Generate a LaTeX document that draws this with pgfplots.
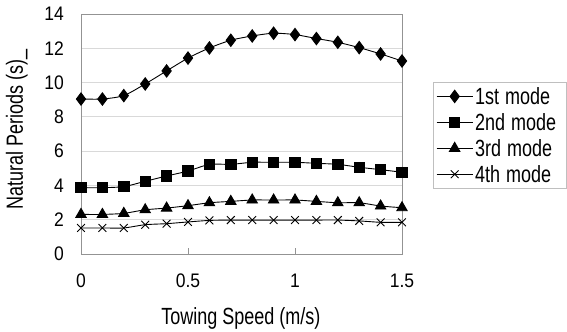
\documentclass[border=0pt]{standalone}
\usepackage{pgfplots}
\pgfplotsset{compat=1.18}
\usepackage{graphicx}
\usepackage{fontspec}
\setmainfont{Liberation Sans}
\newcommand{\tall}[1]{\scalebox{1}[1.3]{#1}}
\begin{document}
\begin{tikzpicture}[x=1bp,y=1bp]
\path[use as bounding box] (0,0) rectangle (567,-331);
\begin{axis}[
  at={(81bp,-254bp)}, anchor=south west,
  scale only axis, width=321bp, height=240bp,
  xmin=0, xmax=1.5, ymin=0, ymax=14,
  xtick={0,0.5,1,1.5}, ytick={0,2,...,14},
  /pgf/number format/assume math mode=true,
  font=\fontsize{17.5bp}{20bp}\selectfont,
  xticklabel={\scalebox{1}[1.12]{\pgfmathprintnumber{\tick}}},
  yticklabel={\scalebox{1}[1.12]{\pgfmathprintnumber{\tick}}},
  axis line style={draw=gray!85},
  ymajorgrids, grid style={draw=gray!30, line width=0.8bp},
  tick style={draw=gray!85},
  xtick pos=bottom, ytick pos=left,
  tick align=inside,
  major tick length=6bp,
  y tick style={draw=none},
  xticklabel style={inner sep=0pt, anchor=north, yshift=-20bp},
  yticklabel style={inner sep=0pt, anchor=east, xshift=-17bp},
  xlabel={\tall{Towing Speed (m/s)}},
  ylabel={\tall{Natural Periods (s)\_}},
  xlabel style={at={(axis description cs:0.498,-0.267)}, anchor=center, inner sep=0pt, font=\fontsize{18bp}{22bp}\selectfont},
  ylabel style={at={(axis description cs:-0.2,0.52)}, anchor=center, inner sep=0pt, font=\fontsize{18bp}{22bp}\selectfont},
  legend style={at={(axis description cs:1.0966,0.7167)}, anchor=north west,
    draw=gray!50, font=\fontsize{18bp}{20bp}\selectfont, inner sep=3bp,
    row sep=3.5bp, cells={anchor=west}, text width=86bp,
    nodes={inner sep=2bp}},
  legend image code/.code={\draw[mark repeat=2,mark phase=2,#1] plot coordinates {(0bp,0bp)(18bp,0bp)(36bp,0bp)};},
  every axis plot/.append style={black, line width=0.9bp, smooth, tension=0.4},
]
\addplot[mark=diamond*, mark size=6.2bp, mark options={solid}] coordinates {
(0,9.04)(0.1,9.04)(0.2,9.24)(0.3,9.92)(0.4,10.68)(0.5,11.43)(0.6,12.02)(0.7,12.47)
(0.8,12.72)(0.9,12.88)(1.0,12.80)(1.1,12.57)(1.2,12.35)(1.3,12.04)(1.4,11.67)(1.5,11.26)};
\addlegendentry{\tall{1st mode}}
\addplot[mark=square*, mark size=5.2bp] coordinates {
(0,3.87)(0.1,3.87)(0.2,3.93)(0.3,4.24)(0.4,4.55)(0.5,4.84)(0.6,5.23)(0.7,5.23)
(0.8,5.35)(0.9,5.35)(1.0,5.35)(1.1,5.29)(1.2,5.23)(1.3,5.06)(1.4,4.92)(1.5,4.77)};
\addlegendentry{\tall{2nd mode}}
\addplot[mark=triangle*, mark size=6bp] coordinates {
(0,2.31)(0.1,2.31)(0.2,2.37)(0.3,2.58)(0.4,2.68)(0.5,2.82)(0.6,2.99)(0.7,3.07)
(0.8,3.15)(0.9,3.15)(1.0,3.15)(1.1,3.07)(1.2,2.99)(1.3,2.99)(1.4,2.80)(1.5,2.70)};
\addlegendentry{\tall{3rd mode}}
\addplot[mark=x, mark size=5.5bp] coordinates {
(0,1.52)(0.1,1.52)(0.2,1.52)(0.3,1.71)(0.4,1.77)(0.5,1.87)(0.6,1.96)(0.7,1.98)
(0.8,1.98)(0.9,1.98)(1.0,1.98)(1.1,1.98)(1.2,1.98)(1.3,1.93)(1.4,1.85)(1.5,1.85)};
\addlegendentry{\tall{4th mode}}
\end{axis}
\end{tikzpicture}
\end{document}
